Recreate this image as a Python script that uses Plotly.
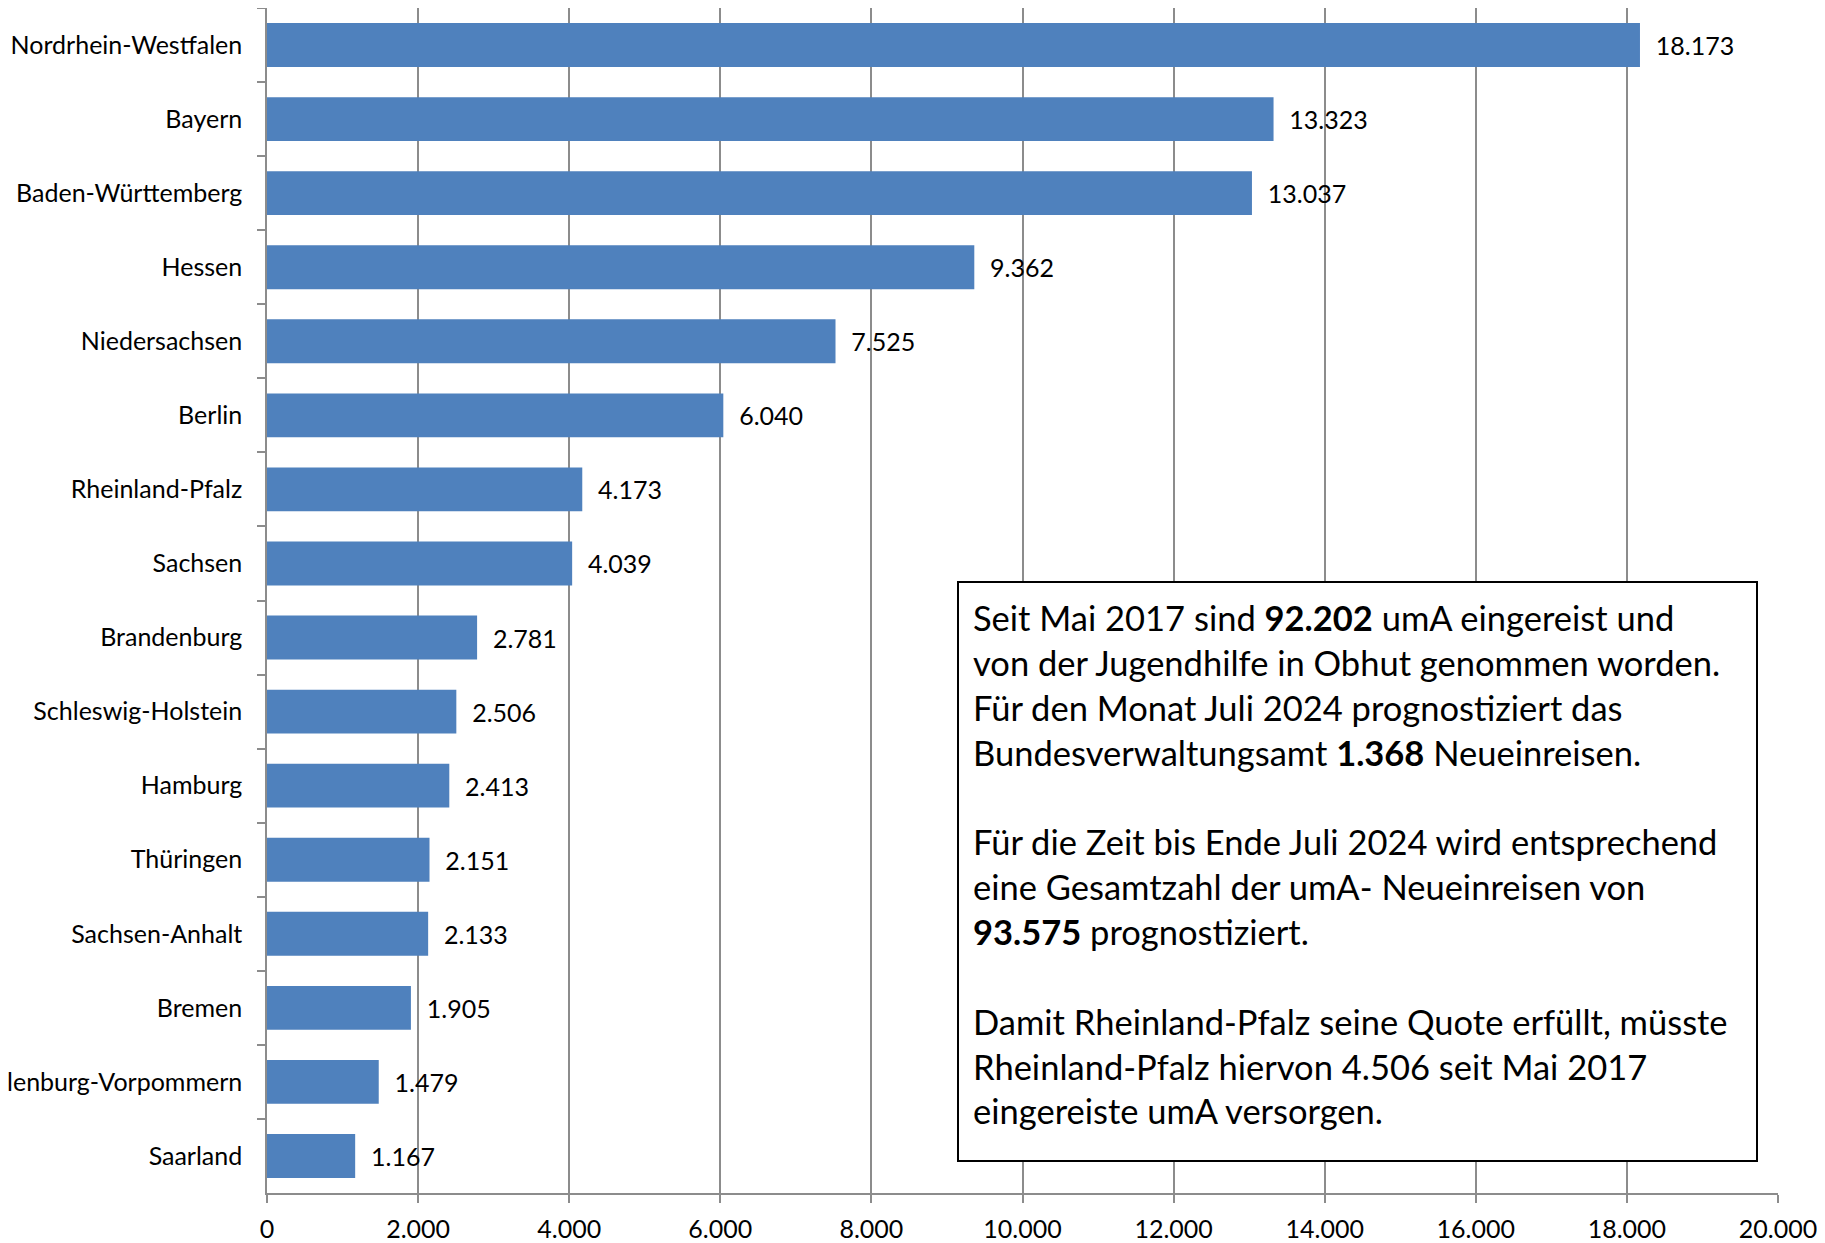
import plotly.graph_objects as go

states = ["Nordrhein-Westfalen", "Bayern", "Baden-Württemberg", "Hessen", "Niedersachsen",
          "Berlin", "Rheinland-Pfalz", "Sachsen", "Brandenburg", "Schleswig-Holstein",
          "Hamburg", "Thüringen", "Sachsen-Anhalt", "Bremen", "Mecklenburg-Vorpommern", "Saarland"]
values = [18173, 13323, 13037, 9362, 7525, 6040, 4173, 4039, 2781, 2506,
          2413, 2151, 2133, 1905, 1479, 1167]
x_ticks = [0, 2000, 4000, 6000, 8000, 10000, 12000, 14000, 16000, 18000, 20000]

box_lines = [
    "Seit Mai 2017 sind <b>92.202</b> umA eingereist und",
    "von der Jugendhilfe in Obhut genommen worden.",
    "Für den Monat Juli 2024 prognostiziert das",
    "Bundesverwaltungsamt <b>1.368</b> Neueinreisen.",
    "",
    "Für die Zeit bis Ende Juli 2024 wird entsprechend",
    "eine Gesamtzahl der umA- Neueinreisen von",
    "<b>93.575</b> prognostiziert.",
    "",
    "Damit Rheinland-Pfalz seine Quote erfüllt, müsste",
    "Rheinland-Pfalz hiervon 4.506 seit Mai 2017",
    "eingereiste umA versorgen.",
]

FONT = "Lato, Carlito, Calibri, sans-serif"
GRID = "#8c8c8c"

fig = go.Figure()
fig.add_trace(go.Bar(
    y=states, x=values, orientation="h",
    marker=dict(color="#4F81BD", line=dict(color="#4F81BD", width=0)),
    text=values, texttemplate="  %{x:,d}", textposition="outside",
    textfont=dict(family=FONT, size=25, color="#000000"),
    cliponaxis=False,
))

fig.update_layout(
    width=1817, height=1235,
    margin=dict(l=259, r=47, t=0, b=50),
    paper_bgcolor="white", plot_bgcolor="white",
    separators=",.",
    bargap=0.407,
    showlegend=False,
    font=dict(family=FONT, size=25, color="#000000"),
    xaxis=dict(
        range=[0, 20000], tickvals=x_ticks, tickformat=",d",
        showgrid=True, gridcolor=GRID, gridwidth=1.5,
        showline=True, linecolor=GRID, linewidth=1.5,
        ticks="outside", ticklen=8, tickcolor=GRID, tickwidth=1.5,
        tickfont=dict(family=FONT, size=25), zeroline=False,
        ticklabelstandoff=5, automargin=False,
    ),
    yaxis=dict(
        autorange="reversed", tickson="boundaries",
        showline=True, linecolor=GRID, linewidth=1.5,
        ticks="outside", ticklen=8, tickcolor=GRID, tickwidth=1.5,
        showgrid=False, tickfont=dict(family=FONT, size=25),
        ticklabelstandoff=18, automargin=False,
    ),
)

fig.add_annotation(
    xref="paper", yref="paper", x=0.4567, y=(1193 - 581) / 1185,
    xanchor="left", yanchor="top",
    text="<br>".join(box_lines), align="left", showarrow=False,
    font=dict(family=FONT, size=34.5, color="#000000"),
    bgcolor="white", bordercolor="#000000", borderwidth=2,
    borderpad=14, width=769, height=549, valign="top",
)

fig.write_html("out.html")
